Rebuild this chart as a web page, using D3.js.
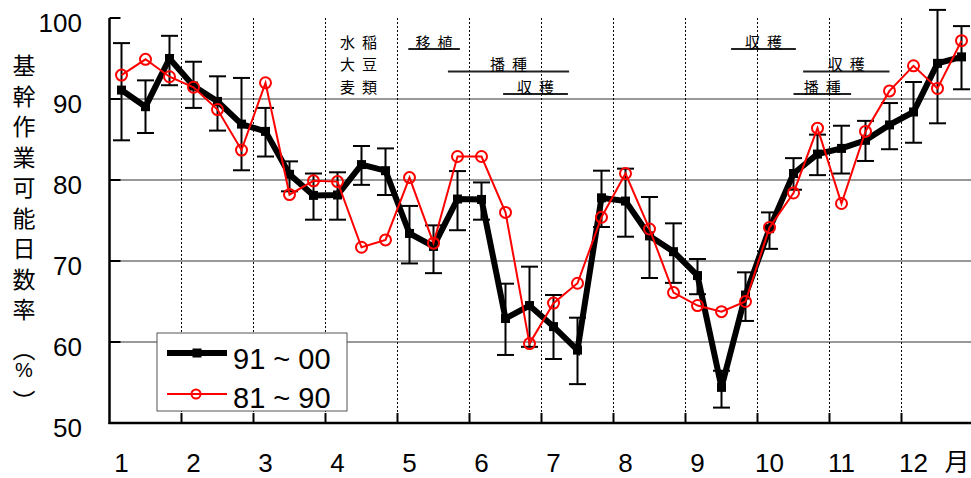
<!DOCTYPE html>
<html>
<head>
<meta charset="utf-8">
<script src="https://cdn.jsdelivr.net/npm/d3@7"></script>
<style>
  body { margin: 0; background: #fff; }
  svg { display: block; }
</style>
</head>
<body>
<div id="chart"></div>
<script>
// data, one value per dekad (3 per month)
const months = ["1", "2", "3", "4", "5", "6", "7", "8", "9", "10", "11", "12"];
const series91 = [91.1, 89.05, 95.0, 91.6, 89.7, 86.9, 86.0, 80.7, 78.1, 78.15, 81.9, 81.15,
    73.4, 71.8, 77.65, 77.6, 62.9, 64.5, 61.9, 59.0, 77.8, 77.4, 73.1, 71.15,
    68.2, 54.4, 65.8, 74.0, 80.8, 83.2, 83.9, 84.9, 86.8, 88.4, 94.4, 95.2];
const series91Hi = [96.9, 92.3, 97.8, 94.6, 92.8, 92.6, 88.9, 82.3, 80.8, 80.95, 84.2, 83.9,
    76.8, 74.4, 81.1, 79.7, 67.2, 69.3, 65.8, 63.0, 81.15, 81.4, 77.9, 74.65,
    70.25, 56.45, 68.6, 76.0, 82.7, 85.6, 86.7, 87.3, 89.5, 92.1, 101.0, 99.0];
const series91Lo = [84.9, 85.8, 91.7, 88.9, 86.1, 81.2, 82.9, 78.6, 75.1, 75.1, 79.4, 78.15,
    69.7, 68.5, 73.8, 75.1, 58.4, 59.4, 57.9, 54.8, 74.2, 73.0, 67.9, 67.3,
    65.9, 51.9, 62.6, 71.5, 78.8, 80.6, 80.8, 82.35, 83.8, 84.6, 87.0, 91.2];
const series81 = [92.95, 94.9, 92.75, 91.45, 88.7, 83.7, 92.0, 78.2, 79.9, 79.8, 71.7, 72.6,
    80.3, 72.2, 82.9, 82.9, 76.0, 59.8, 64.8, 67.25, 75.4, 80.8, 73.95, 66.1,
    64.5, 63.75, 65.0, 74.15, 78.4, 86.4, 77.1, 86.0, 91.0, 94.1, 91.3, 97.2];
const seriesNames = ["91 ~ 00", "81 ~ 90"];
const yTicks = [50, 60, 70, 80, 90, 100];
const yTitle = ["基", "幹", "作", "業", "可", "能", "日", "数", "率"];
const crops = ["水稲", "大豆", "麦類"];
// work periods in dekads (start, end) per crop row
const periods = [
    { label: "移植", crop: 0, from: 12.45, to: 14.6 },
    { label: "播種", crop: 1, from: 14.1, to: 19.15 },
    { label: "収穫", crop: 2, from: 16.4, to: 19.1 },
    { label: "収穫", crop: 0, from: 25.9, to: 28.6 },
    { label: "収穫", crop: 1, from: 28.9, to: 32.5 },
    { label: "播種", crop: 2, from: 28.5, to: 30.9 }
];

const width = 971, height = 478;
const latin = "'Liberation Sans', Arial, sans-serif";
const cjk = "'Noto Sans CJK JP', sans-serif";

const svg = d3.select("#chart")
    .append("svg")
    .attr("width", width)
    .attr("height", height);

const x = d3.scaleLinear().domain([0, 36]).range([109.5, 973.5]);
const y = d3.scaleLinear().domain([50, 100]).range([423, 18]);
const dek = d3.range(36);

// horizontal grid
svg.selectAll(".hgrid")
    .data(yTicks.filter(d => d > 50 && d < 100))
    .enter().append("line")
    .attr("x1", x(0)).attr("x2", width)
    .attr("y1", d => y(d)).attr("y2", d => y(d))
    .attr("stroke", "#777").attr("stroke-width", 1.5);

// month dividers (dotted)
svg.selectAll(".vgrid")
    .data(d3.range(1, 12))
    .enter().append("line")
    .attr("x1", d => x(d * 3)).attr("x2", d => x(d * 3))
    .attr("y1", y(100)).attr("y2", y(50))
    .attr("stroke", "#000").attr("stroke-width", 1)
    .attr("stroke-dasharray", "2,2");

// axes
svg.append("line")
    .attr("x1", x(0)).attr("x2", x(0))
    .attr("y1", y(100)).attr("y2", y(50) + 1)
    .attr("stroke", "#000").attr("stroke-width", 2.5);
svg.append("line")
    .attr("x1", x(0) - 1).attr("x2", width)
    .attr("y1", y(50)).attr("y2", y(50))
    .attr("stroke", "#000").attr("stroke-width", 2.5);

svg.selectAll(".ytick")
    .data(yTicks)
    .enter().append("line")
    .attr("x1", x(0)).attr("x2", x(0) + 11)
    .attr("y1", d => y(d)).attr("y2", d => y(d))
    .attr("stroke", "#000").attr("stroke-width", 2);

svg.selectAll(".ylab")
    .data(yTicks)
    .enter().append("text")
    .attr("x", 82)
    .attr("y", d => y(d) + 13.5)
    .attr("text-anchor", "end")
    .attr("font-family", latin)
    .attr("font-size", 26)
    .text(d => d);

svg.selectAll(".xtick")
    .data(d3.range(1, 12))
    .enter().append("line")
    .attr("x1", d => x(d * 3)).attr("x2", d => x(d * 3))
    .attr("y1", y(50)).attr("y2", y(50) - 10)
    .attr("stroke", "#000").attr("stroke-width", 2);

svg.selectAll(".mlab")
    .data(months)
    .enter().append("text")
    .attr("x", (d, i) => x(i * 3 + 0.5))
    .attr("y", 472)
    .attr("text-anchor", "middle")
    .attr("font-family", latin)
    .attr("font-size", 26)
    .text(d => d);

svg.append("text")
    .attr("x", 957).attr("y", 471)
    .attr("text-anchor", "middle")
    .attr("font-family", cjk)
    .attr("font-size", 25)
    .text("月");

// y title, stacked vertically
svg.selectAll(".ytitle")
    .data(yTitle)
    .enter().append("text")
    .attr("x", 24)
    .attr("y", (d, i) => 64 + i * 30.5)
    .attr("text-anchor", "middle")
    .attr("dominant-baseline", "central")
    .attr("font-family", cjk)
    .attr("font-size", 23)
    .text(d => d);
svg.append("text").attr("x", 24).attr("y", 348)
    .attr("text-anchor", "middle").attr("dominant-baseline", "central")
    .attr("font-family", cjk).attr("font-size", 23).text("︵");
svg.append("text").attr("x", 24).attr("y", 377)
    .attr("text-anchor", "middle")
    .attr("font-family", latin).attr("font-size", 20).text("%");
svg.append("text").attr("x", 24).attr("y", 400)
    .attr("text-anchor", "middle").attr("dominant-baseline", "central")
    .attr("font-family", cjk).attr("font-size", 23).text("︶");

// crop names and work periods
const rowY = [41, 63.5, 86];
svg.selectAll(".crop")
    .data(crops)
    .enter().append("text")
    .attr("x", 340)
    .attr("y", (d, i) => rowY[i])
    .attr("dominant-baseline", "central")
    .attr("font-family", cjk)
    .attr("font-size", 15)
    .attr("letter-spacing", 7)
    .text(d => d);

svg.selectAll(".period")
    .data(periods)
    .enter().append("line")
    .attr("x1", d => x(d.from)).attr("x2", d => x(d.to))
    .attr("y1", d => rowY[d.crop] + 8).attr("y2", d => rowY[d.crop] + 8)
    .attr("stroke", "#222").attr("stroke-width", 2);

svg.selectAll(".plab")
    .data(periods)
    .enter().append("text")
    .attr("x", d => (x(d.from) + x(d.to)) / 2 - 18.5)
    .attr("y", d => rowY[d.crop])
    .attr("dominant-baseline", "central")
    .attr("font-family", cjk)
    .attr("font-size", 15)
    .attr("letter-spacing", 7)
    .text(d => d.label);

// 91~00 with error bars
const errs = svg.append("g");
dek.forEach(i => {
    const cx = x(i + 0.5);
    errs.append("line")
        .attr("x1", cx).attr("x2", cx)
        .attr("y1", y(series91Hi[i])).attr("y2", y(series91Lo[i]))
        .attr("stroke", "#000").attr("stroke-width", 2);
    [series91Hi[i], series91Lo[i]].forEach(v => {
        errs.append("line")
            .attr("x1", cx - 8.5).attr("x2", cx + 8.5)
            .attr("y1", y(v)).attr("y2", y(v))
            .attr("stroke", "#000").attr("stroke-width", 2);
    });
});

const line = d3.line().x((d, i) => x(i + 0.5)).y(d => y(d));

svg.append("path")
    .datum(series91)
    .attr("d", line)
    .attr("fill", "none")
    .attr("stroke", "#000")
    .attr("stroke-width", 6)
    .attr("stroke-linejoin", "miter");

svg.selectAll(".sq")
    .data(series91)
    .enter().append("rect")
    .attr("x", (d, i) => x(i + 0.5) - 4.5)
    .attr("y", d => y(d) - 4.5)
    .attr("width", 9).attr("height", 9)
    .attr("fill", "#000");

// 81~90
svg.append("path")
    .datum(series81)
    .attr("d", line)
    .attr("fill", "none")
    .attr("stroke", "#f00")
    .attr("stroke-width", 2);

svg.selectAll(".ci")
    .data(series81)
    .enter().append("circle")
    .attr("cx", (d, i) => x(i + 0.5))
    .attr("cy", d => y(d))
    .attr("r", 5.5)
    .attr("fill", "none")
    .attr("stroke", "#f00")
    .attr("stroke-width", 2);

// legend
const lg = svg.append("g");
lg.append("rect")
    .attr("x", 157).attr("y", 333)
    .attr("width", 190).attr("height", 78)
    .attr("fill", "#fff").attr("stroke", "#555").attr("stroke-width", 1);
lg.append("line").attr("x1", 167).attr("x2", 227).attr("y1", 353).attr("y2", 353)
    .attr("stroke", "#000").attr("stroke-width", 6);
lg.append("rect").attr("x", 192.5).attr("y", 348.5).attr("width", 9).attr("height", 9)
    .attr("fill", "#000");
lg.append("line").attr("x1", 167).attr("x2", 227).attr("y1", 394).attr("y2", 394)
    .attr("stroke", "#f00").attr("stroke-width", 2);
lg.append("circle").attr("cx", 196).attr("cy", 394).attr("r", 4.5)
    .attr("fill", "none").attr("stroke", "#f00").attr("stroke-width", 2);
lg.selectAll(".lt")
    .data(seriesNames)
    .enter().append("text")
    .attr("x", 233)
    .attr("y", (d, i) => 369 + i * 39)
    .attr("font-family", latin)
    .attr("font-size", 29)
    .text(d => d);
</script>
</body>
</html>
